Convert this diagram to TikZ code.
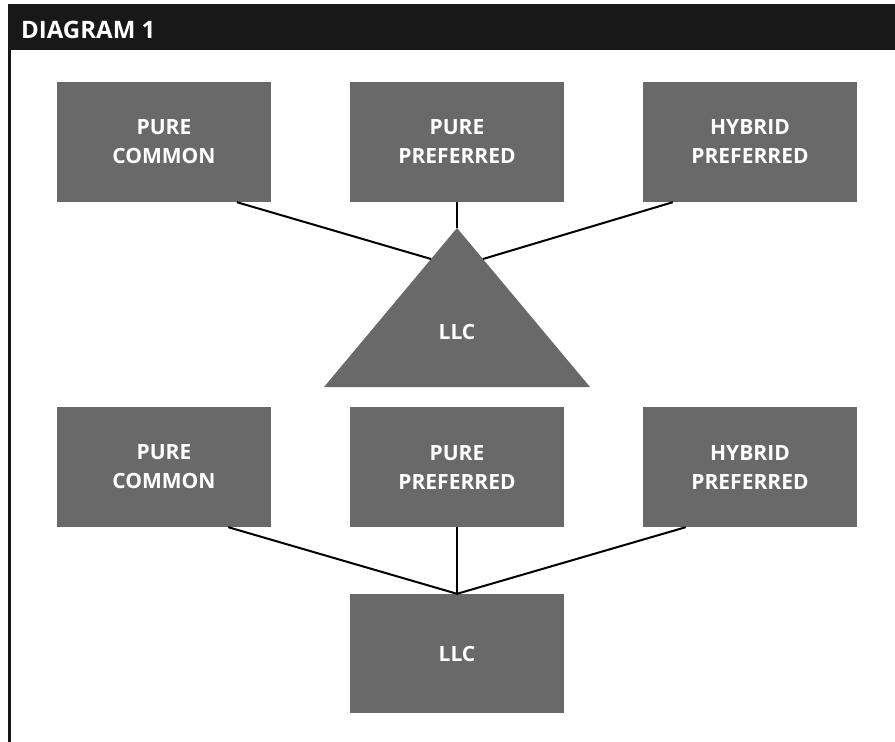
\documentclass[tikz,border=0pt]{standalone}
\usepackage{fontspec}
\setmainfont{Open Sans}
\usepackage{tikz}
\usetikzlibrary{calc}
\usetikzlibrary{positioning}

\definecolor{boxgrey}{HTML}{696969}
\definecolor{headblack}{HTML}{181818}

\tikzset{
  entity/.style={fill=boxgrey, text=white, font=\bfseries\fontsize{21}{29}\selectfont,
    align=center, minimum width=214pt, minimum height=120pt, inner sep=0pt},
  link/.style={line width=2pt, black},
}

\begin{document}
\begin{tikzpicture}[x=1pt, y=-1pt]
  \useasboundingbox (0, 0) rectangle (895, 742);

  % header and frame
  \fill[headblack] (8, 4) rectangle (895, 50);
  \node[anchor=base west, text=white, font=\bfseries\fontsize{24}{28}\selectfont, inner sep=0pt]
    (title) at (21, 38) {DIAGRAM 1};
  \draw[line width=2.5pt, headblack] (9.25, 50) -- (9.25, 742);

  % top structure
  \node[entity] (pc1) at (164, 142) {PURE\\COMMON};
  \node[entity] (pp1) at (457, 142) {PURE\\PREFERRED};
  \node[entity] (hp1) at (750, 142) {HYBRID\\PREFERRED};

  \coordinate (apex) at (457, 228);
  \coordinate (tleft) at (324, 387);
  \coordinate (tright) at (590, 387);
  \fill[boxgrey] (apex) -- (tleft) -- (tright) -- cycle;
  \node[text=white, font=\bfseries\fontsize{21}{29}\selectfont] (llc1) at (457, 332) {LLC};

  \draw[link] ($(pc1.south west)!0.84!(pc1.south east)$) -- ($(apex)!0.195!(tleft)$);
  \draw[link] (pp1.south) -- (apex);
  \draw[link] ($(hp1.south west)!0.14!(hp1.south east)$) -- ($(apex)!0.195!(tright)$);

  % bottom structure
  \node[entity] (pc2) at (164, 467) {PURE\\COMMON};
  \node[entity] (pp2) at (457, 467) {PURE\\PREFERRED};
  \node[entity] (hp2) at (750, 467) {HYBRID\\PREFERRED};
  \node[entity, minimum height=119pt] (llc2) at (457, 653.5) {LLC};

  \draw[link] ($(pc2.south west)!0.8!(pc2.south east)$) -- (llc2.north);
  \draw[link] (pp2.south) -- (llc2.north);
  \draw[link] ($(hp2.south west)!0.2!(hp2.south east)$) -- (llc2.north);
\end{tikzpicture}
\end{document}
